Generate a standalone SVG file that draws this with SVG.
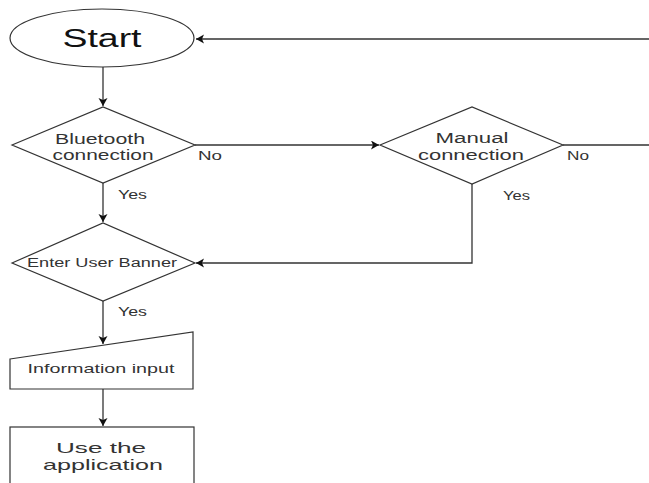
<svg xmlns="http://www.w3.org/2000/svg" width="649" height="483" viewBox="0 0 649 483">
<style>
.shape{fill:#fff;stroke:#333;stroke-width:1.2}
.conn{fill:none;stroke:#333;stroke-width:1.3}
text{font-family:"Liberation Sans",Arial,sans-serif;fill:#333;text-anchor:middle}
.lbl{font-size:13px;text-anchor:start}
.two{font-size:14px}
</style>
<defs>
<marker id="arr" markerUnits="userSpaceOnUse" markerWidth="10" markerHeight="10" refX="8" refY="4.5" orient="auto">
<path d="M0,0 L8,4.5 L0,9 L2,4.5 z" fill="#111"/>
</marker>
</defs>
<rect width="649" height="483" fill="#fff"/>
<g id="connectors">
<path class="conn" d="M103,67 V106" marker-end="url(#arr)"/>
<path class="conn" d="M103,183 V222" marker-end="url(#arr)"/>
<path class="conn" d="M195,145 H379" marker-end="url(#arr)"/>
<path class="conn" d="M563,145 H660 V39 H196" marker-end="url(#arr)"/>
<path class="conn" d="M472,184 V263 H196" marker-end="url(#arr)"/>
<path class="conn" d="M103,301 V344" marker-end="url(#arr)"/>
<path class="conn" d="M103,389 V426" marker-end="url(#arr)"/>
<text class="lbl" x="118" y="199" textLength="29" lengthAdjust="spacingAndGlyphs">Yes</text>
<text class="lbl" x="198" y="160" textLength="24" lengthAdjust="spacingAndGlyphs">No</text>
<text class="lbl" x="503" y="200" textLength="27" lengthAdjust="spacingAndGlyphs">Yes</text>
<text class="lbl" x="567" y="160" textLength="22" lengthAdjust="spacingAndGlyphs">No</text>
<text class="lbl" x="118" y="316" textLength="29" lengthAdjust="spacingAndGlyphs">Yes</text>
</g>
<g id="start">
<ellipse class="shape" cx="102" cy="38" rx="92" ry="29"/>
<text x="102" y="47" font-size="26" style="fill:#111" textLength="79" lengthAdjust="spacingAndGlyphs">Start</text>
</g>
<g id="bluetooth">
<polygon class="shape" points="12,145 103,107 195,145 103,183"/>
<text class="two" x="100" y="144" textLength="90" lengthAdjust="spacingAndGlyphs">Bluetooth</text>
<text class="two" x="103" y="160" textLength="101" lengthAdjust="spacingAndGlyphs">connection</text>
</g>
<g id="manual">
<polygon class="shape" points="380,145 472,107 563,145 472,184"/>
<text class="two" x="472" y="143" textLength="73" lengthAdjust="spacingAndGlyphs">Manual</text>
<text class="two" x="471" y="160" textLength="106" lengthAdjust="spacingAndGlyphs">connection</text>
</g>
<g id="banner">
<polygon class="shape" points="12,263 103,223 195,263 103,301"/>
<text x="102" y="267" font-size="12.5" textLength="150" lengthAdjust="spacingAndGlyphs">Enter User Banner</text>
</g>
<g id="info">
<polygon class="shape" points="10,359 193,332 193,389 10,389"/>
<text x="101" y="373" font-size="13.5" textLength="147" lengthAdjust="spacingAndGlyphs">Information input</text>
</g>
<g id="use">
<rect class="shape" x="10" y="427" width="184" height="70"/>
<text class="two" x="101" y="453" font-size="15" style="font-size:15px" textLength="90" lengthAdjust="spacingAndGlyphs">Use the</text>
<text class="two" x="103" y="470" style="font-size:15px" textLength="120" lengthAdjust="spacingAndGlyphs">application</text>
</g>
</svg>
